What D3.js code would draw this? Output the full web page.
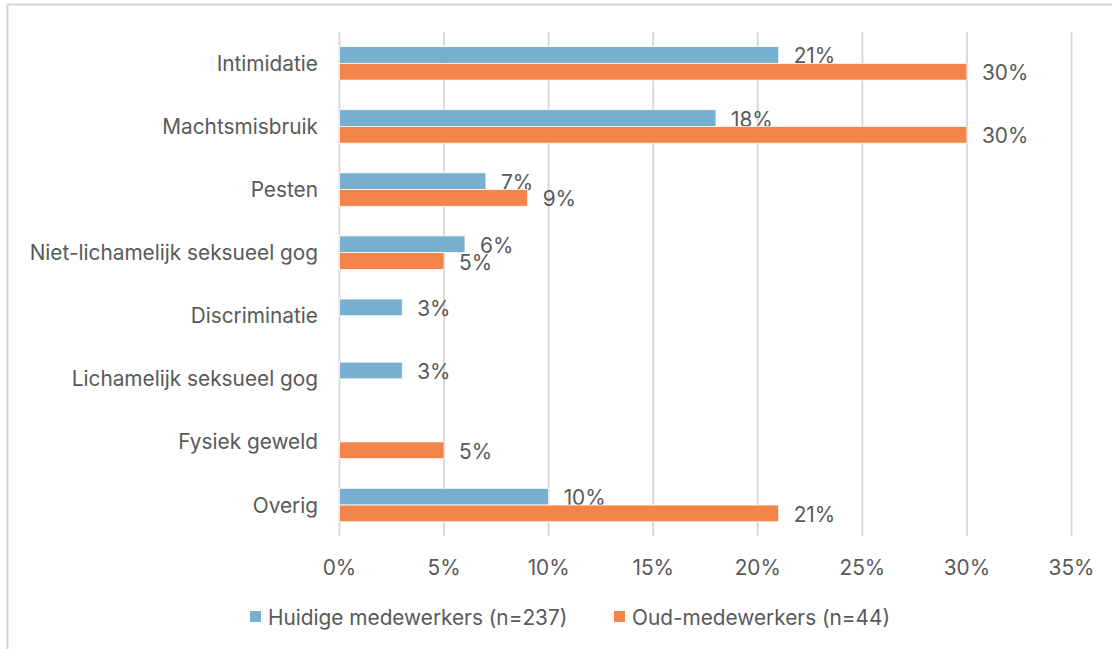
<!DOCTYPE html>
<html>
<head>
<meta charset="utf-8">
<script src="https://cdn.jsdelivr.net/npm/d3@7"></script>
<style>
  html, body { margin: 0; padding: 0; background: #fff; }
  svg text { font-family: Inter, "Open Sans", sans-serif; fill: #595959; }
</style>
</head>
<body>
<svg id="chart" width="1112" height="649"></svg>
<script>
// Categories, top to bottom
const categories = [
  "Intimidatie",
  "Machtsmisbruik",
  "Pesten",
  "Niet-lichamelijk seksueel gog",
  "Discriminatie",
  "Lichamelijk seksueel gog",
  "Fysiek geweld",
  "Overig"
];
const seriesNames = ["Huidige medewerkers (n=237)", "Oud-medewerkers (n=44)"];
// Percentages per category (null = not reported)
const huidige = [21, 18, 7, 6, 3, 3, null, 10];
const oud = [30, 30, 9, 5, null, null, 5, 21];
const xTicks = [0, 5, 10, 15, 20, 25, 30, 35];
const colors = ["#76B0CE", "#F5844A"];

const svg = d3.select("#chart");
const W = 1112, H = 649;
const FS = "20.8px";

// outer frame
svg.append("rect")
  .attr("x", 7.5).attr("y", 4.5)
  .attr("width", W + 10).attr("height", H + 10)
  .attr("fill", "none").attr("stroke", "#d4d4d4").attr("stroke-width", 2);

const x = d3.scaleLinear().domain([0, 35]).range([339.5, 1071.5]);
const y = d3.scaleBand().domain(categories).range([31.8, 536.6])
  .paddingInner(0.47).paddingOuter(0.235);
const ySub = d3.scaleBand().domain(seriesNames).range([0, y.bandwidth()]);

// vertical gridlines
svg.append("g").selectAll("line").data(xTicks).join("line")
  .attr("x1", d => x(d)).attr("x2", d => x(d))
  .attr("y1", 32).attr("y2", 536)
  .attr("stroke", "#d9d9d9").attr("stroke-width", 2);

// x tick labels
svg.append("g").selectAll("text").data(xTicks).join("text")
  .attr("x", d => x(d)).attr("y", 567)
  .attr("text-anchor", "middle").attr("dominant-baseline", "central")
  .style("font-size", FS)
  .text(d => d + "%");

// category labels
svg.append("g").selectAll("text").data(categories).join("text")
  .attr("x", 318).attr("y", d => y(d) + y.bandwidth() / 2)
  .attr("text-anchor", "end").attr("dominant-baseline", "central")
  .style("font-size", FS)
  .text(d => d);

const series = [huidige, oud];
series.forEach((vals, si) => {
  const rows = categories.map((c, i) => ({ c, v: vals[i] })).filter(d => d.v != null);
  const g = svg.append("g");
  g.selectAll("rect").data(rows).join("rect")
    .attr("x", x(0))
    .attr("y", d => y(d.c) + ySub(seriesNames[si]))
    .attr("width", d => x(d.v) - x(0))
    .attr("height", ySub.bandwidth())
    .attr("fill", colors[si])
    .attr("stroke", "#fff").attr("stroke-width", 0.75);
  g.selectAll("text").data(rows).join("text")
    .attr("x", d => x(d.v) + 15)
    .attr("y", d => y(d.c) + ySub(seriesNames[si]) + ySub.bandwidth() / 2 + 1)
    .attr("dominant-baseline", "central")
    .style("font-size", FS)
    .text(d => d.v + "%");
});

// legend
const legendItems = [
  { name: seriesNames[0], color: colors[0], x: 250 },
  { name: seriesNames[1], color: colors[1], x: 614 }
];
const lg = svg.append("g");
legendItems.forEach(it => {
  lg.append("rect").attr("x", it.x).attr("y", 611).attr("width", 11).attr("height", 11)
    .attr("fill", it.color);
  lg.append("text").attr("x", it.x + 18).attr("y", 617)
    .attr("dominant-baseline", "central")
    .style("font-size", FS)
    .text(it.name);
});
</script>
</body>
</html>
